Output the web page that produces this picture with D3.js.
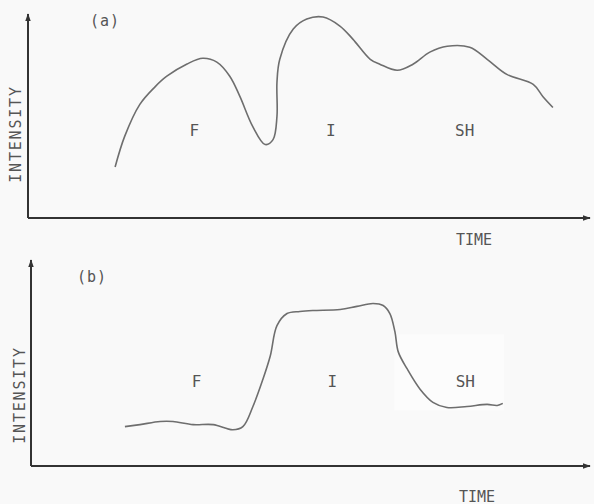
<!DOCTYPE html>
<html><head><meta charset="utf-8">
<script src="https://cdn.jsdelivr.net/npm/d3@7"></script>
<style>
html,body{margin:0;padding:0;background:#f9f9f9;}
svg{display:block;}
text{font-family:"DejaVu Sans Mono",monospace;fill:#555;}
</style></head>
<body><svg id="c" width="594" height="504"></svg>
<script>
// Panel (a): time (0-100) vs intensity (0-100)
const timeA = [15.5,17.2,19.9,22.6,24.7,28.3,31.1,33.6,35.9,37.7,40.0,42.2,43.6,44.3,44.3,44.8,47.2,49.6,52.5,55.5,57.8,60.9,62.6,65.7,68.5,71.5,74.6,78.6,81.7,85.2,89.9,91.6,93.4];
const intensityA = [25,40,55.7,64.3,69.5,75.5,78.3,76.4,69.5,59.6,44.8,36,38.4,49.8,66.5,77.8,92.6,97.5,98.5,94.1,87.7,77.8,75.4,72.4,75.4,81.3,84.2,83.7,77.8,70.4,65.5,59.6,54.2];
// Panel (b)
const timeB = [16.8,19.5,23.1,25.4,29.0,32.6,36.1,37.9,39.7,41.5,42.8,44.0,45.8,48.1,50.4,55.3,58.3,61.2,63.0,64.2,65.1,65.7,67.3,69.6,71.9,74.4,78.0,81.6,83.4,84.4];
const intensityB = [19.1,20.1,21.6,21.6,20.1,20.1,17.6,19.1,28.9,42.2,53.4,68.1,74.0,75.0,75.5,76.0,77.5,78.9,77.9,74.0,65.2,55.4,47.1,37.3,30.9,28.4,28.9,29.9,29.4,30.4];
const regionLabels = ["F","I","SH"];
const regionTimes = [29.6,53.9,77.7];

const svg = d3.select("#c");
const defs = svg.append("defs");
defs.append("marker").attr("id","arr").attr("viewBox","0 0 10 10").attr("refX",9).attr("refY",5)
  .attr("markerWidth",4).attr("markerHeight",4).attr("orient","auto-start-reverse").attr("markerUnits","strokeWidth")
  .append("path").attr("d","M0,1.5L10,5L0,8.5Z").attr("fill","#333");

function panel(cfg){
  const x = d3.scaleLinear().domain([0,100]).range([cfg.x0, 590]);
  const y = d3.scaleLinear().domain([0,100]).range([cfg.yb, cfg.yt]);
  const g = svg.append("g");
  if(cfg.patch){
    g.append("rect").attr("x",x(65)).attr("y",y(64)).attr("width",x(84.6)-x(65)).attr("height",y(27)-y(64)).attr("fill","#fcfcfc");
  }
  const ax = g.append("g").attr("transform",`translate(0,${cfg.yb})`).call(d3.axisBottom(x).ticks(0).tickSizeOuter(0));
  ax.select(".domain").attr("stroke","#333").attr("stroke-width",2).attr("marker-end","url(#arr)")
    .attr("d",`M${cfg.x0},0H${x(100)}`);
  const ay = g.append("g").attr("transform",`translate(${cfg.x0},0)`).call(d3.axisLeft(y).ticks(0).tickSizeOuter(0));
  ay.select(".domain").attr("stroke","#333").attr("stroke-width",2).attr("marker-end","url(#arr)")
    .attr("d",`M0,${cfg.yb}V${cfg.yt}`);

  const line = d3.line().x((d,i)=>x(cfg.t[i])).y(d=>y(d)).curve(d3.curveCatmullRom.alpha(0.5));
  g.append("path").datum(cfg.v).attr("d",line).attr("fill","none").attr("stroke","#6e6e6e").attr("stroke-width",1.6);

  g.selectAll(".rl").data(regionLabels).join("text").attr("x",(d,i)=>x(regionTimes[i])).attr("y",cfg.labY)
    .attr("text-anchor","middle").attr("dominant-baseline","middle").attr("font-size",16).text(d=>d);
  g.append("text").attr("x",cfg.tagX).attr("y",cfg.tagY).attr("text-anchor","middle").attr("dominant-baseline","middle")
    .attr("font-size",15).attr("letter-spacing",1).text(cfg.tag);
  g.append("text").attr("transform",`translate(${cfg.ilX},${cfg.ilY}) rotate(-90)`).attr("text-anchor","middle")
    .attr("dominant-baseline","middle").attr("font-size",15).attr("letter-spacing",1.8).text("INTENSITY");
  g.append("text").attr("x",cfg.timeX).attr("y",cfg.timeY).attr("text-anchor","middle").attr("dominant-baseline","middle")
    .attr("font-size",15).text("TIME");
}

panel({x0:28,yb:218,yt:14,t:timeA,v:intensityA,labY:131,tag:"(a)",tagX:105,tagY:21,ilX:16,ilY:134,timeX:474,timeY:240});
panel({x0:31,yb:466,yt:260,t:timeB,v:intensityB,labY:382,tag:"(b)",tagX:92,tagY:277,ilX:20,ilY:395,timeX:477,timeY:497,patch:true});
</script></body></html>
